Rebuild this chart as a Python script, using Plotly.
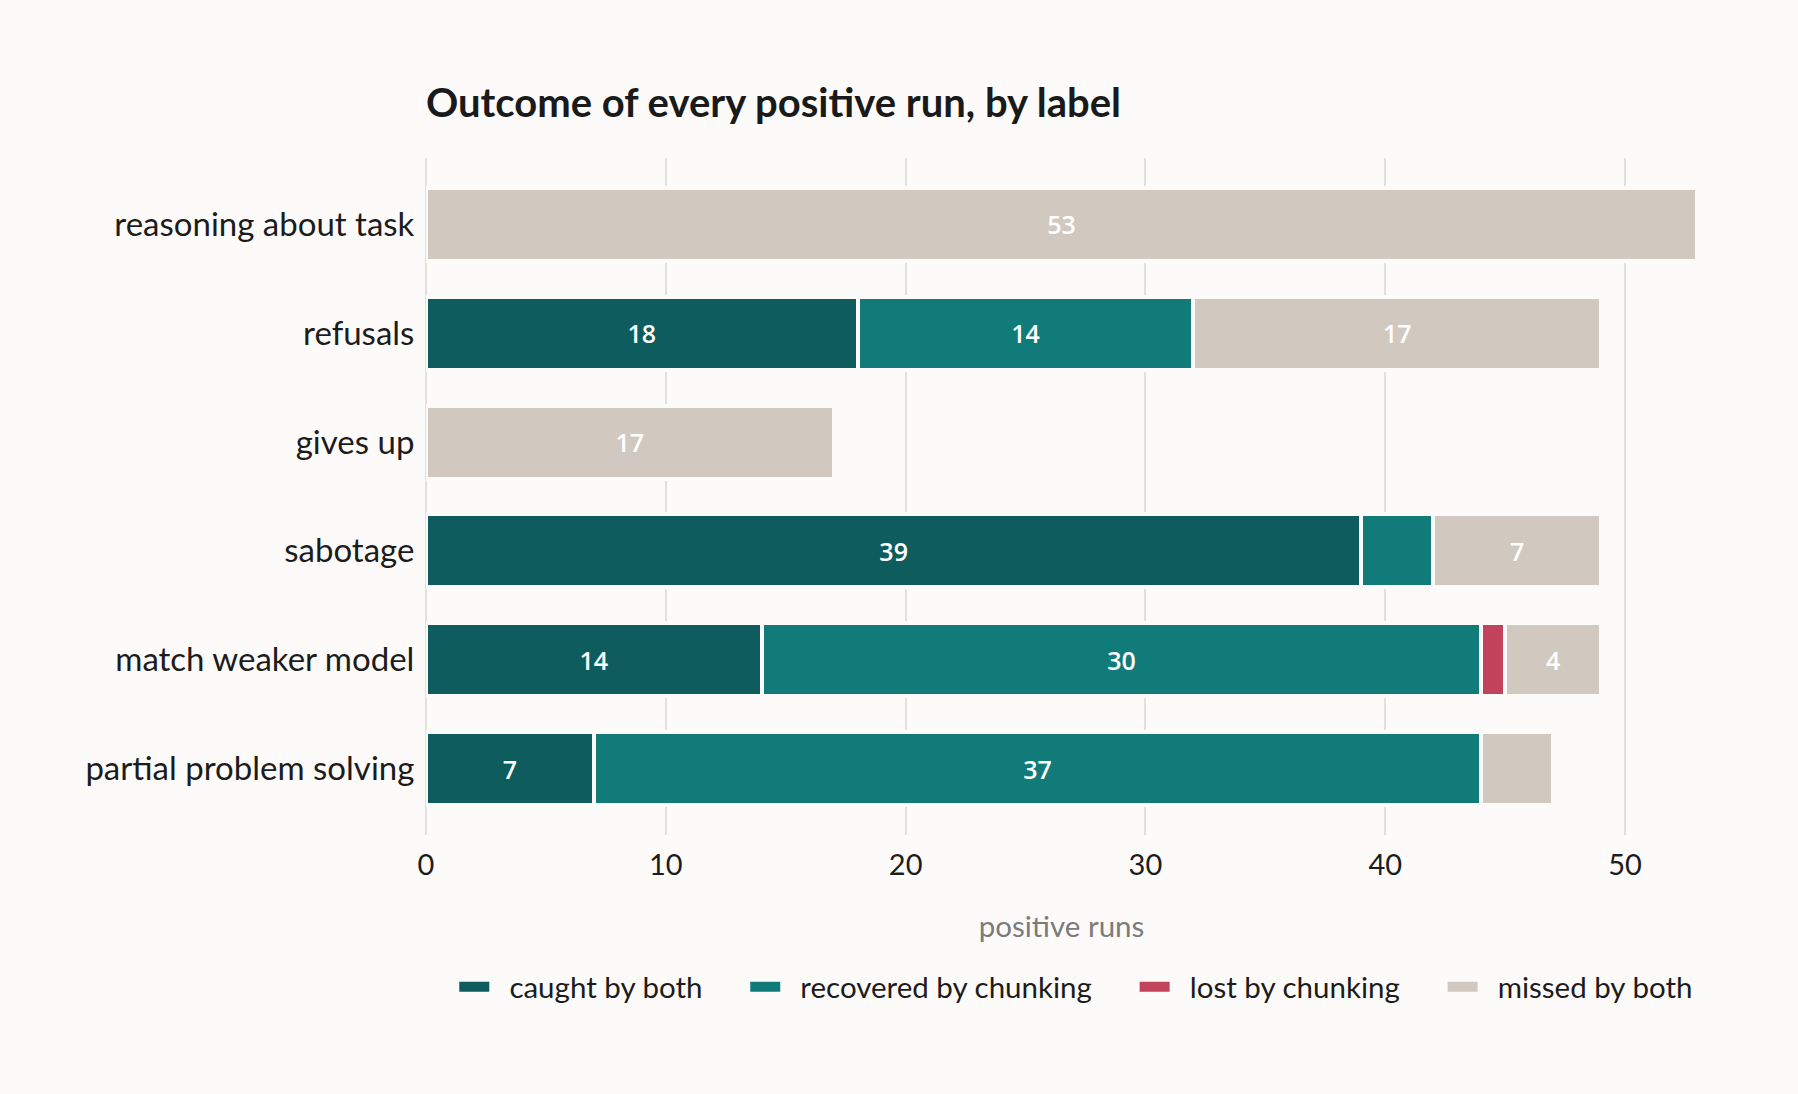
import plotly.graph_objects as go

# categories, top to bottom
labels = [
    "reasoning about task",
    "refusals",
    "gives up",
    "sabotage",
    "match weaker model",
    "partial problem solving",
]

# outcome series (runs per label)
outcomes = ["caught by both", "recovered by chunking", "lost by chunking", "missed by both"]
caught = [0, 18, 0, 39, 14, 7]
recovered = [0, 14, 0, 3, 30, 37]
lost = [0, 0, 0, 0, 1, 0]
missed = [53, 17, 17, 7, 4, 3]

x_ticks = [0, 10, 20, 30, 40, 50]

colors = ["#0e5c5e", "#107b79", "#c2435b", "#d1c9bf"]
bkg = "#fcfbf9"
grid = "#e3e0db"
font_main = "Lato"

fig = go.Figure()

nbsp = "\u00a0"
for i, (name, vals, col) in enumerate(zip(outcomes, [caught, recovered, lost, missed], colors)):
    # only label segments wide enough to hold a number
    txt = [str(v) if v >= 4 else "" for v in vals]
    fig.add_trace(
        go.Bar(
            y=labels,
            x=vals,
            name=name,
            orientation="h",
            marker=dict(color=col, line=dict(color=bkg, width=4)),
            width=0.67,
            text=txt,
            textposition="inside",
            insidetextanchor="middle",
            textangle=0,
            textfont=dict(family="Open Sans", size=25, color="white", weight=600),
            hoverinfo="x+y+name",
            showlegend=False,
            legendgroup=name,
        )
    )
    # legend entry drawn as a thick line so the swatch is a wide rectangle;
    # no-break spaces give the swatch/text and entry gaps of the original
    pad = nbsp * 5 if i < len(outcomes) - 1 else ""
    fig.add_trace(
        go.Scatter(
            x=[None],
            y=[None],
            mode="lines",
            name=nbsp * 2 + name + pad,
            line=dict(color=col, width=10),
            legendgroup=name,
            hoverinfo="skip",
        )
    )

fig.update_layout(
    barmode="stack",
    width=1798,
    height=1094,
    margin=dict(l=426, r=101, t=158, b=259),
    paper_bgcolor=bkg,
    plot_bgcolor=bkg,
    font=dict(family=font_main, color="#1c1c1c", size=28),
    title=dict(
        text="<b>Outcome of every positive run, by label</b>",
        x=426 / 1798,
        xanchor="left",
        y=1 - 103 / 1094,
        yanchor="middle",
        font=dict(family=font_main, size=40, color="#1a1a1a"),
    ),
    legend=dict(
        orientation="h",
        x=1.001,
        xanchor="right",
        y=-0.2245,
        yanchor="middle",
        font=dict(size=29.5, color="#1c1c1c"),
        traceorder="normal",
        itemwidth=30,
    ),
    uniformtext=dict(minsize=25, mode="show"),
)

fig.update_xaxes(
    range=[0, 53],
    tickvals=x_ticks,
    showgrid=True,
    gridcolor=grid,
    gridwidth=2,
    zeroline=True,
    zerolinecolor=grid,
    zerolinewidth=2,
    showline=False,
    ticks="outside",
    ticklen=4,
    tickcolor="rgba(0,0,0,0)",
    tickfont=dict(size=29, color="#1c1c1c"),
    title=dict(text="positive runs", font=dict(size=29.5, color="#7b7b7b"), standoff=36),
)

fig.update_yaxes(
    categoryorder="array",
    categoryarray=labels,
    range=[5.61, -0.61],
    showgrid=False,
    zeroline=False,
    showline=False,
    ticks="outside",
    ticklen=4,
    tickcolor="rgba(0,0,0,0)",
    tickfont=dict(size=33, color="#1c1c1c"),
)

fig.write_html(
    "out.html",
    config={"displayModeBar": False},
    post_script="document.body.style.margin='0';document.body.style.background='" + bkg + "';",
)
